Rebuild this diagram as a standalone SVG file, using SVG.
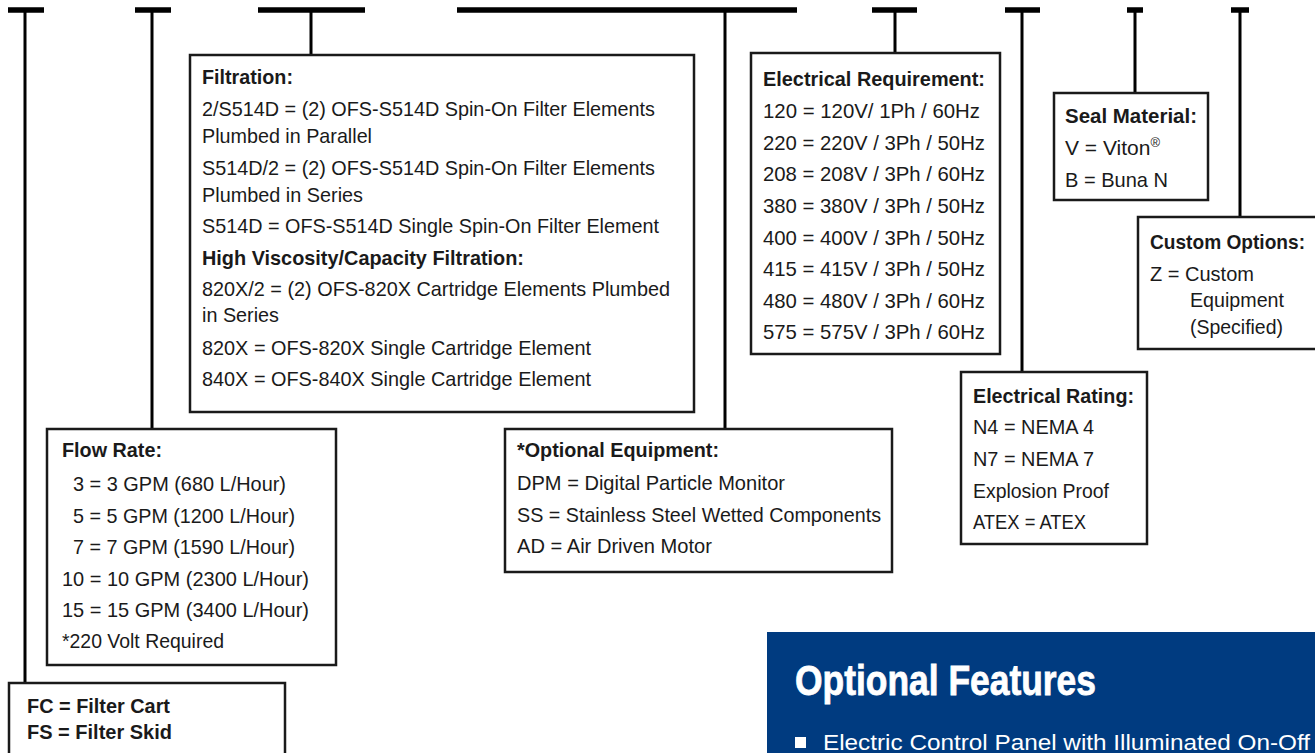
<svg xmlns="http://www.w3.org/2000/svg" width="1315" height="753" viewBox="0 0 1315 753">
<style>
.box{fill:#fff;stroke:#1a1a1a;stroke-width:2.5}
.bar{stroke:#000;stroke-width:5.5;fill:none}
.stem{stroke:#000;stroke-width:3;fill:none}
text{font-family:"Liberation Sans",Arial,sans-serif;font-size:21px;fill:#1a1a1a}
.b{font-weight:bold}
.title{font-weight:bold;font-size:42px;fill:#fff;stroke:#fff;stroke-width:0.8}
.feat{font-size:22px;fill:#fff}
</style>
<rect width="1315" height="753" fill="#fff"/>
<g id="connectors">
<path class="bar" d="M8 10H44M135 10H171M258 10H365M457 10H797M872 10H917M1005 10H1040M1127 10H1143M1231 10H1249"/>
<path class="stem" d="M25 10V683M152 10V429M311 10V55M725 10V429M895 10V53M1022 10V372M1135 10V93M1240 10V217"/>
</g>
<g id="filtration">
<rect class="box" x="190" y="55" width="504" height="357"/>
<text class="b" x="202" y="84" textLength="91" lengthAdjust="spacingAndGlyphs">Filtration:</text>
<text x="202" y="116" textLength="453" lengthAdjust="spacingAndGlyphs">2/S514D = (2) OFS-S514D Spin-On Filter Elements</text>
<text x="202" y="143" textLength="170" lengthAdjust="spacingAndGlyphs">Plumbed in Parallel</text>
<text x="202" y="175" textLength="453" lengthAdjust="spacingAndGlyphs">S514D/2 = (2) OFS-S514D Spin-On Filter Elements</text>
<text x="202" y="202" textLength="161" lengthAdjust="spacingAndGlyphs">Plumbed in Series</text>
<text x="202" y="233" textLength="457" lengthAdjust="spacingAndGlyphs">S514D = OFS-S514D Single Spin-On Filter Element</text>
<text class="b" x="202" y="265" textLength="322" lengthAdjust="spacingAndGlyphs">High Viscosity/Capacity Filtration:</text>
<text x="202" y="296" textLength="468" lengthAdjust="spacingAndGlyphs">820X/2 = (2) OFS-820X Cartridge Elements Plumbed</text>
<text x="202" y="322" textLength="77" lengthAdjust="spacingAndGlyphs">in Series</text>
<text x="202" y="355" textLength="389" lengthAdjust="spacingAndGlyphs">820X = OFS-820X Single Cartridge Element</text>
<text x="202" y="386" textLength="389" lengthAdjust="spacingAndGlyphs">840X = OFS-840X Single Cartridge Element</text>
</g>
<g id="electrical-requirement">
<rect class="box" x="751" y="53" width="249" height="301"/>
<text class="b" x="763" y="86" textLength="222" lengthAdjust="spacingAndGlyphs">Electrical Requirement:</text>
<text x="763" y="118" textLength="217" lengthAdjust="spacingAndGlyphs">120 = 120V/ 1Ph / 60Hz</text>
<text x="763" y="150" textLength="222" lengthAdjust="spacingAndGlyphs">220 = 220V / 3Ph / 50Hz</text>
<text x="763" y="181" textLength="222" lengthAdjust="spacingAndGlyphs">208 = 208V / 3Ph / 60Hz</text>
<text x="763" y="213" textLength="222" lengthAdjust="spacingAndGlyphs">380 = 380V / 3Ph / 50Hz</text>
<text x="763" y="245" textLength="222" lengthAdjust="spacingAndGlyphs">400 = 400V / 3Ph / 50Hz</text>
<text x="763" y="276" textLength="222" lengthAdjust="spacingAndGlyphs">415 = 415V / 3Ph / 50Hz</text>
<text x="763" y="308" textLength="222" lengthAdjust="spacingAndGlyphs">480 = 480V / 3Ph / 60Hz</text>
<text x="763" y="339" textLength="222" lengthAdjust="spacingAndGlyphs">575 = 575V / 3Ph / 60Hz</text>
</g>
<g id="seal-material">
<rect class="box" x="1054" y="93" width="154" height="107"/>
<text class="b" x="1065" y="123" textLength="132" lengthAdjust="spacingAndGlyphs">Seal Material:</text>
<text x="1065" y="155">V = Viton<tspan font-size="13" dy="-8">®</tspan></text>
<text x="1065" y="187" textLength="103" lengthAdjust="spacingAndGlyphs">B = Buna N</text>
</g>
<g id="custom-options">
<rect class="box" x="1138" y="217" width="180" height="132"/>
<text class="b" x="1150" y="249" textLength="155" lengthAdjust="spacingAndGlyphs">Custom Options:</text>
<text x="1150" y="281" textLength="104" lengthAdjust="spacingAndGlyphs">Z = Custom</text>
<text x="1190" y="307" textLength="94" lengthAdjust="spacingAndGlyphs">Equipment</text>
<text x="1190" y="334" textLength="93" lengthAdjust="spacingAndGlyphs">(Specified)</text>
</g>
<g id="electrical-rating">
<rect class="box" x="961" y="372" width="186" height="172"/>
<text class="b" x="973" y="403" textLength="161" lengthAdjust="spacingAndGlyphs">Electrical Rating:</text>
<text x="973" y="434" textLength="121" lengthAdjust="spacingAndGlyphs">N4 = NEMA 4</text>
<text x="973" y="466" textLength="121" lengthAdjust="spacingAndGlyphs">N7 = NEMA 7</text>
<text x="973" y="498" textLength="136" lengthAdjust="spacingAndGlyphs">Explosion Proof</text>
<text x="973" y="529" textLength="113" lengthAdjust="spacingAndGlyphs">ATEX = ATEX</text>
</g>
<g id="optional-equipment">
<rect class="box" x="505" y="429" width="387" height="143"/>
<text class="b" x="517" y="457" textLength="202" lengthAdjust="spacingAndGlyphs">*Optional Equipment:</text>
<text x="517" y="490" textLength="268" lengthAdjust="spacingAndGlyphs">DPM = Digital Particle Monitor</text>
<text x="517" y="522" textLength="364" lengthAdjust="spacingAndGlyphs">SS = Stainless Steel Wetted Components</text>
<text x="517" y="553" textLength="195" lengthAdjust="spacingAndGlyphs">AD = Air Driven Motor</text>
</g>
<g id="flow-rate">
<rect class="box" x="47" y="429" width="289" height="236"/>
<text class="b" x="62" y="457" textLength="100" lengthAdjust="spacingAndGlyphs">Flow Rate:</text>
<text x="73" y="491" textLength="213" lengthAdjust="spacingAndGlyphs">3 = 3 GPM (680 L/Hour)</text>
<text x="73" y="523" textLength="222" lengthAdjust="spacingAndGlyphs">5 = 5 GPM (1200 L/Hour)</text>
<text x="73" y="554" textLength="222" lengthAdjust="spacingAndGlyphs">7 = 7 GPM (1590 L/Hour)</text>
<text x="62" y="586" textLength="247" lengthAdjust="spacingAndGlyphs">10 = 10 GPM (2300 L/Hour)</text>
<text x="62" y="617" textLength="247" lengthAdjust="spacingAndGlyphs">15 = 15 GPM (3400 L/Hour)</text>
<text x="62" y="648" textLength="162" lengthAdjust="spacingAndGlyphs">*220 Volt Required</text>
</g>
<g id="type">
<rect class="box" x="9" y="683" width="276" height="72"/>
<text class="b" x="27" y="713" textLength="143" lengthAdjust="spacingAndGlyphs">FC = Filter Cart</text>
<text class="b" x="27" y="739" textLength="145" lengthAdjust="spacingAndGlyphs">FS = Filter Skid</text>
</g>
<g id="optional-features">
<rect x="767" y="632" width="548" height="121" fill="#003b80"/>
<text class="title" x="795" y="695" textLength="301" lengthAdjust="spacingAndGlyphs">Optional Features</text>
<rect x="795" y="737" width="11" height="11" fill="#fff"/>
<text class="feat" x="823" y="750" textLength="487" lengthAdjust="spacingAndGlyphs">Electric Control Panel with Illuminated On-Off</text>
</g>
</svg>
